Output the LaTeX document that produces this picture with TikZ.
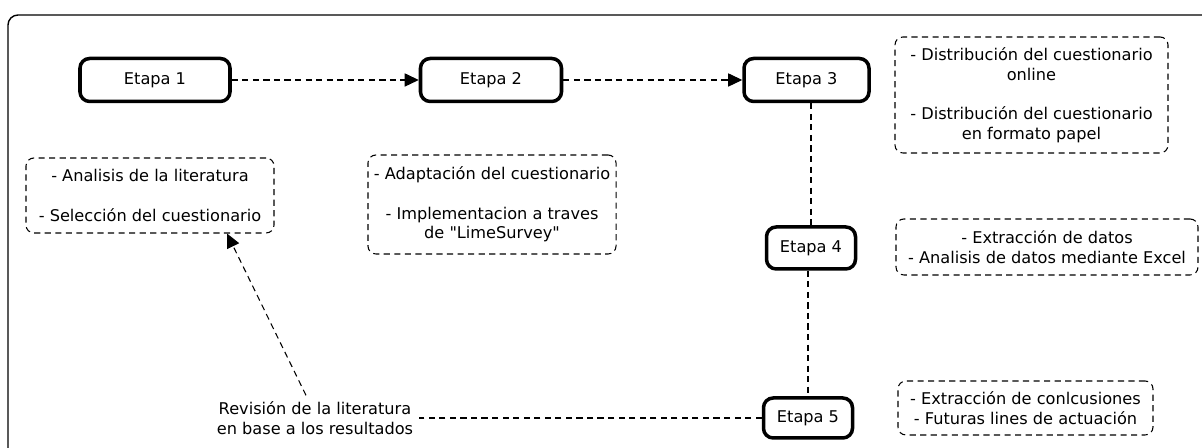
\documentclass[tikz,border=0pt]{standalone}
\usepackage{fontspec}
\setmainfont{DejaVu Sans}[Ligatures=TeXOff]
\usetikzlibrary{arrows.meta}
\begin{document}
\begin{tikzpicture}[%
        font=\fontsize{9.2}{11.2}\selectfont,
        etapa/.style={draw, line width=2pt, rounded corners=5.5pt, minimum height=0.86cm},
        nota/.style={draw, line width=0.6pt, dash pattern=on 3.5pt off 2.5pt, rounded corners=4.5pt, align=center},
        enlace/.style={line width=0.6pt, dash pattern=on 3.5pt off 2.5pt},
        flecha/.style={enlace, -{Triangle[length=8pt, width=7.5pt]}}
    ]
    \useasboundingbox (0,0) rectangle (24.04,8.96);
    \clip (0,0) rectangle (24.04,8.96);
    \draw [line width=0.8pt, rounded corners=5.7pt] (0.16,-0.5) rectangle (24.6,8.66);

    \node [etapa, minimum width=3.0cm] (e1) at (3.10,7.36) {Etapa 1};
    \node [etapa, minimum width=2.82cm] (e2) at (9.82,7.36) {Etapa 2};
    \node [etapa, minimum width=2.5cm] (e3) at (16.13,7.36) {Etapa 3};
    \node [etapa, minimum width=1.78cm, minimum height=0.84cm] (e4) at (16.22,4.00) {Etapa 4};
    \node [etapa, minimum width=1.78cm, minimum height=0.8cm] (e5) at (16.16,0.60) {Etapa 5};

    \node [nota, minimum width=4.96cm, minimum height=1.5cm] (lit) at (3.00,5.05)
        {- Analisis de la literatura\\[\baselineskip] - Selección del cuestionario};
    \node [nota, minimum width=4.8cm, minimum height=1.98cm] (adapt) at (9.84,4.87)
        {- Adaptación del cuestionario\\[\baselineskip] - Implementacion a traves\\ de "LimeSurvey"};
    \node [nota, minimum width=5.46cm, minimum height=2.32cm] (distr) at (20.63,7.06)
        {- Distribución del cuestionario\\ online\\[\baselineskip] - Distribución del cuestionario\\ en formato papel};
    \node [nota, minimum width=6.04cm, minimum height=1.12cm] (datos) at (20.94,4.02)
        {- Extracción de datos\\ - Analisis de datos mediante Excel};
    \node [nota, minimum width=5.1cm, minimum height=1.08cm] (concl) at (20.51,0.80)
        {- Extracción de conlcusiones\\ - Futuras lines de actuación};
    \node [align=center] (rev) at (6.30,0.60) {Revisión de la literatura\\ en base a los resultados};

    \draw [flecha] (e1) -- (e2);
    \draw [flecha] (e2) -- (e3);
    \draw [enlace] (e4.north |- e3.south) -- (e4.north);
    \draw [enlace] (e5.north |- e4.south) -- (e5.north);
    \draw [enlace] (e5) -- (rev);
    \draw [flecha] ([xshift=-0.18cm]rev.north) -- ([xshift=1.54cm]lit.south);
\end{tikzpicture}
\end{document}
